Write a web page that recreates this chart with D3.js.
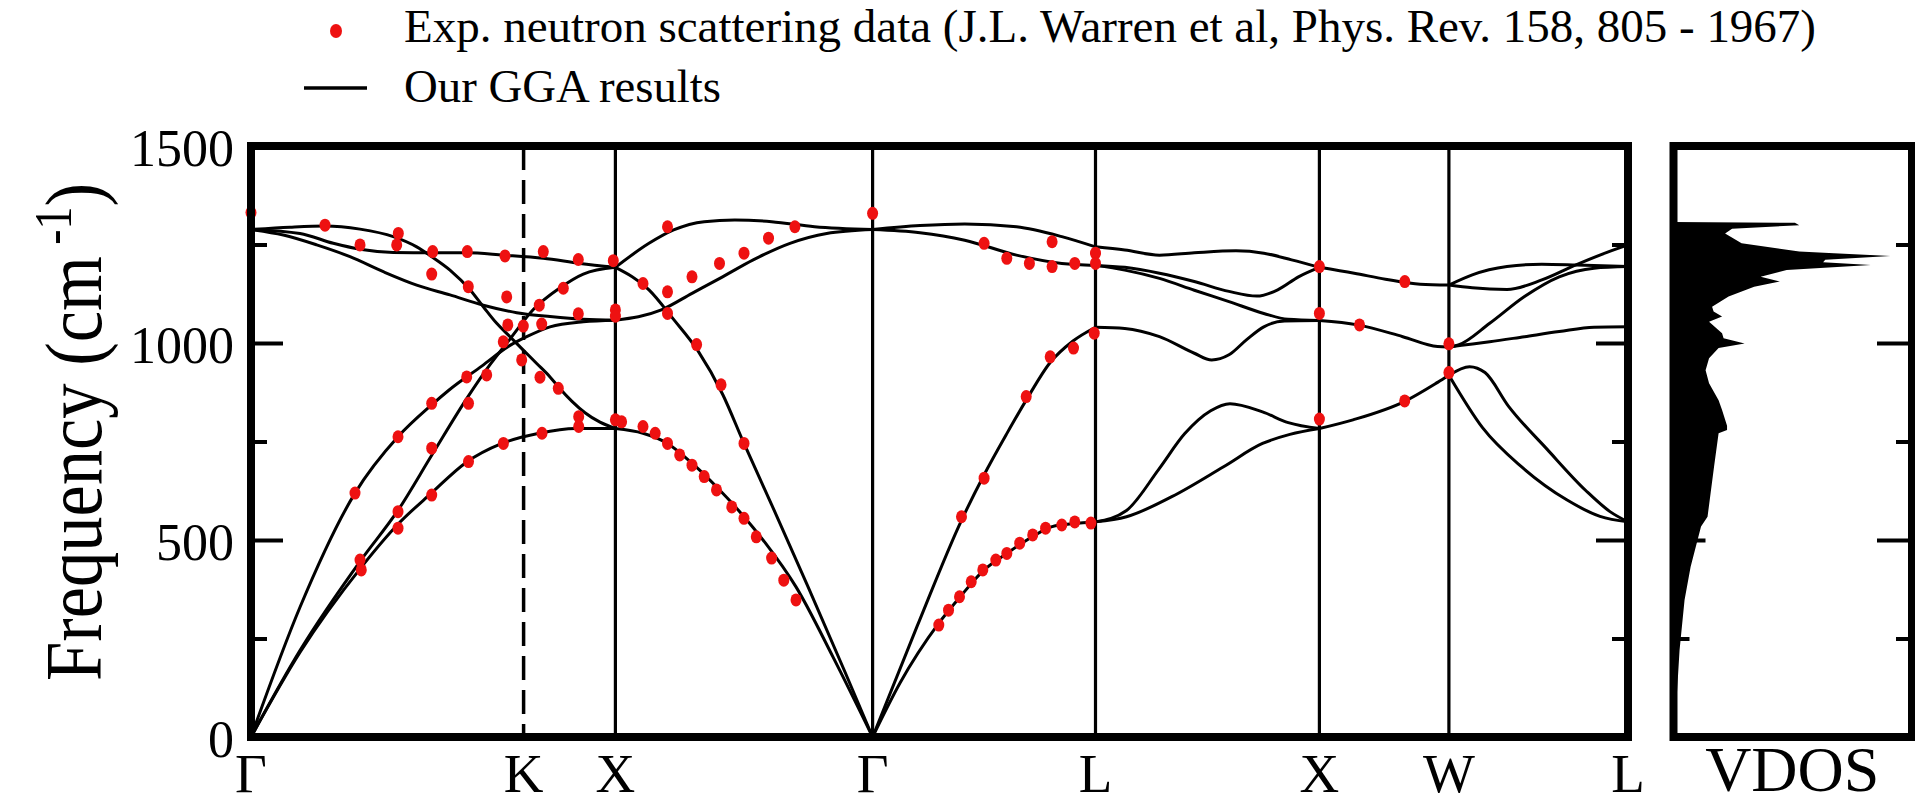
<!DOCTYPE html>
<html><head><meta charset="utf-8">
<script src="https://cdn.jsdelivr.net/npm/d3@7"></script>
<style>
body{margin:0;background:#fff}
svg{display:block}
text{font-family:"Liberation Serif","Times New Roman",serif;fill:#000}
</style>
</head><body><svg id="c" width="1915" height="805"></svg>
<script>
// ---- high-symmetry path (segment units: 0=Γ,1=K,2=X,3=Γ,4=L,5=X,6=W,7=L) ----
const kLabels = ["Γ","K","X","Γ","L","X","W","L"];
const kTicks = [0,1,2,3,4,5,6,7];
const yMajor = [0,500,1000,1500];
const yMinor = [250,750,1250];

// ---- GGA phonon branches [k, frequency cm^-1] ----
const bandsGX = [
 [[0,0],[0.18,215],[0.4035,430],[0.539,540],[0.6633,620],[0.7855,695],[0.9207,745],[1.168,771],[1.566,783],[2,783]],
 [[0,0],[0.18,220],[0.4035,449],[0.539,575],[0.6629,715],[0.7924,860],[0.8768,945],[0.9501,1010],[1.1057,1085],[1.3965,1140],[1.6503,1175],[2,1192]],
 [[0,0],[0.18,330],[0.3815,619],[0.5392,762],[0.6629,843],[0.7256,880],[0.8478,942],[0.9457,992],[1.0338,1016],[1.2876,1041],[1.6503,1054],[2,1058]],
 [[0,1288],[0.143,1294],[0.2715,1297],[0.3999,1289],[0.522,1270],[0.6079,1244],[0.6629,1219],[0.73,1185],[0.8034,1135],[0.8522,1092],[0.9013,1050],[0.9501,1016],[0.9989,982],[1.1427,948],[1.2876,914],[1.3965,884],[1.5272,852],[1.6688,823],[1.8322,799],[2,783]],
 [[0,1288],[0.1797,1278],[0.3019,1253],[0.3999,1238],[0.522,1230],[0.6688,1229],[0.7913,1229],[0.9255,1223],[1.2146,1215],[1.6144,1202],[2,1192]],
 [[0,1288],[0.1185,1274],[0.241,1249],[0.3632,1219],[0.4853,1181],[0.6079,1147],[0.73,1122],[0.8522,1096],[0.9747,1077],[1.2876,1067],[1.6503,1060],[2,1058]]
];
const bandsXG = [
 [[2,1192],[2.1306,1253],[2.2263,1287],[2.3453,1308],[2.4642,1312],[2.6073,1308],[2.7741,1295],[3,1288]],
 [[2,1058],[2.1788,1084],[2.2978,1126],[2.4168,1168],[2.5358,1211],[2.6788,1253],[2.8216,1278],[3,1288]],
 [[2,1192],[2.1306,1135],[2.2263,1060],[2.3212,980],[2.4168,870],[2.5,745],[2.6073,590],[2.75,380],[2.8927,165],[3,0]],
 [[2,783],[2.1073,771],[2.2026,745],[2.2978,695],[2.3931,635],[2.4883,568],[2.5836,492],[2.7022,381],[2.8453,204],[3,0]]
];
const bandsGL = [
 [[3,1288],[3.2127,1298],[3.4132,1302],[3.6456,1295],[3.8488,1270],[4,1244]],
 [[3,1288],[3.2127,1280],[3.4132,1261],[3.6456,1223],[3.8488,1202],[4,1197]],
 [[3,0],[3.199,280],[3.3988,550],[3.4998,665],[3.6021,770],[3.6891,855],[3.7959,950],[3.8991,1005],[4,1040]],
 [[3,0],[3.1229,137],[3.297,289],[3.3988,360],[3.5002,424],[3.6021,466],[3.7035,504],[3.8197,536],[4,546]]
];
const bandsLX = [
 [[4,1244],[4.1309,1236],[4.2858,1223],[4.4413,1229],[4.6275,1234],[4.7517,1228],[4.8758,1211],[5,1192]],
 [[4,1197],[4.1309,1192],[4.2858,1177],[4.4413,1156],[4.5962,1131],[4.7204,1119],[4.8138,1135],[4.9066,1168],[5,1192]],
 [[4,1197],[4.1309,1185],[4.2858,1164],[4.4413,1134],[4.5962,1105],[4.7517,1075],[4.8598,1060],[5,1057]],
 [[4,1040],[4.1309,1037],[4.2858,1016],[4.4413,974],[4.519,957],[4.5962,970],[4.6739,1008],[4.7517,1041],[4.8446,1056],[5,1057]],
 [[4,546],[4.1385,575],[4.2832,680],[4.3988,770],[4.5145,828],[4.6007,846],[4.7459,825],[4.8611,798],[5,783]],
 [[4,546],[4.1385,559],[4.3408,610],[4.5721,686],[4.7459,745],[4.8682,768],[5,783]]
];
const bandsXW = [
 [[5,1192],[5.2687,1177],[5.5097,1162],[5.7784,1149],[6,1147]],
 [[5,1057],[5.295,1046],[5.644,1016],[5.9127,991],[6,990]],
 [[5,783],[5.2595,805],[5.6595,852],[5.9127,900],[6,918]]
];
const bandsWL = [
 [[6,1147],[6.1307,1173],[6.3244,1194],[6.5187,1200],[6.713,1198],[7,1194]],
 [[6,1147],[6.1307,1140],[6.3244,1136],[6.5187,1160],[6.713,1199],[6.8827,1230],[7,1249]],
 [[6,990],[6.053,995],[6.2278,1050],[6.4221,1118],[6.6158,1168],[6.8102,1190],[7,1194]],
 [[6,990],[6.2278,1003],[6.4221,1016],[6.6158,1029],[6.8102,1040],[7,1041]],
 [[6,918],[6.1156,940],[6.2016,925],[6.3322,840],[6.5489,730],[6.7655,625],[6.8995,572],[7,546]],
 [[6,918],[6.1876,785],[6.4048,686],[6.6577,602],[6.8437,560],[7,546]]
];

// ---- experimental neutron data [k, frequency] ----
const expData = [
 [0,1331],[0.2715,1299],[0.3999,1249],[0.5404,1278],[0.5345,1249],[0.6665,1232],[0.6629,1175],[0.7935,1232],[0.7971,1143],
 [0.9318,1221],[0.938,1117],[1.2146,1232],[1.5959,1212],[1.9771,1209],[1.4325,1139],[1.171,1096],[1.1972,1048],[1.5959,1074],
 [2,1084],[2,1068],[0.9989,1043],[0.942,1046],[0.9255,1003],[0.993,957],[0.7913,914],[0.8646,919],[1.1786,913],[1.378,885],
 [0.3815,619],[0.3999,449],[0.4046,424],[0.5393,762],[0.5393,572],[0.5393,530],[0.6629,847],[0.6629,733],[0.6629,614],
 [0.7979,847],[0.7979,699],[0.9259,745],[1.2004,771],[1.6002,813],[1.6002,788],[2,805],[2.0241,800],[2.1073,788],[2.1547,771],
 [2.2026,745],[2.25,716],[2.2978,690],[2.3453,661],[2.3931,627],[2.4526,584],[2.5,555],[2.5478,508],[2.6073,454],[2.6547,398],
 [2.7022,348],[2.5,745],[2.3158,996],[2.4107,894],
 [2.2026,1295],[2.2978,1168],[2.4047,1202],[2.5,1228],[2.5953,1266],[2.6979,1295],[3,1329],[2.1073,1151],[2.2026,1130],[2.2026,1075],
 [3.5002,1253],[3.6021,1215],[3.7035,1202],[3.8053,1194],[3.8053,1257],[3.9071,1202],[4,1228],[4,1202],
 [3.9942,1025],[3.9013,987],[3.7968,965],[3.6891,864],[3.5002,657],[3.3988,559],
 [3.297,284],[3.3406,322],[3.3899,356],[3.4424,394],[3.4944,424],[3.5528,449],[3.6021,466],[3.66,492],[3.7183,513],
 [3.7761,530],[3.8488,538],[3.9071,546],[3.9794,543],
 [5,1194],[5,1075],[5.3097,1046],[5.6595,1156],[6,998],[6,925],[5.6587,853],[5,807]
];

// ---- vibrational density of states ----
const vdosF = [0,94,221,348,432,534,559,686,771,779,790,830,855,898,931,961,987,999,1012,1025,1054,1067,1080,1092,1118,1143,1156,1168,1185,1198,1205,1211,1221,1228,1232,1253,1278,1290,1299,1305,1307];
const vdosD = [0,0.014,0.028,0.051,0.079,0.127,0.157,0.187,0.208,0.247,0.247,0.224,0.208,0.164,0.148,0.164,0.208,0.328,0.231,0.224,0.164,0.224,0.185,0.178,0.254,0.372,0.49,0.402,0.522,0.91,0.69,0.70,1.0,0.74,0.58,0.314,0.238,0.27,0.58,0.56,0];

// ---- legend / text ----
const legendExp = "Exp. neutron scattering data (J.L. Warren et al, Phys. Rev. 158, 805 - 1967)";
const legendGGA = "Our GGA results";

// ================= drawing =================
const svg = d3.select("#c");
const P = {l:251, r:1628, t:146, b:737};
const V = {l:1673.5, r:1912};
const kPix = [251,523.6,615.4,872.6,1095.5,1319.4,1448.9,1628];
const RED = "#ee1111";

const x = d3.scaleLinear().domain(kTicks).range(kPix);
const y = d3.scaleLinear().domain([0,1500]).range([P.b, P.t]);
const xv = d3.scaleLinear().domain([0,1.1]).range([V.l, V.r]);

// VDOS filled area
svg.append("clipPath").attr("id","vclip").append("rect")
  .attr("x",V.l).attr("y",P.t).attr("width",V.r-V.l).attr("height",P.b-P.t);
const vd = vdosF.map((f,i)=>({f, d:vdosD[i]}));
svg.append("path").datum(vd).attr("clip-path","url(#vclip)")
  .attr("fill","#000")
  .attr("d", d3.area().y(d=>y(d.f)).x0(xv(0)).x1(d=>xv(d.d)).curve(d3.curveLinear));

// high-symmetry vertical lines
svg.append("g").selectAll("line").data(kTicks.slice(1,7)).join("line")
  .attr("x1",d=>x(d)).attr("x2",d=>x(d)).attr("y1",y(1500)).attr("y2",y(0))
  .attr("stroke","#000").attr("stroke-width",d=>d===1?3.5:3.2)
  .attr("stroke-dasharray",d=>d===1?"24,10":null);

// bands
const line = d3.line().x(d=>x(d[0])).y(d=>y(d[1])).curve(d3.curveMonotoneX);
const allBands = [].concat(bandsGX, bandsXG, bandsGL, bandsLX, bandsXW, bandsWL);
svg.append("g").selectAll("path").data(allBands).join("path")
  .attr("d", line).attr("fill","none").attr("stroke","#000")
  .attr("stroke-width",3).attr("stroke-linejoin","round");

// experimental points
svg.append("g").selectAll("ellipse").data(expData).join("ellipse")
  .attr("cx",d=>x(d[0])).attr("cy",d=>y(d[1])).attr("rx",5.5).attr("ry",6.5)
  .attr("fill",RED);

// ticks
function ticks(px, major, minor, label){
  const gM = svg.append("g").attr("transform",`translate(${px},0)`)
    .call(d3.axisLeft(y).tickValues(yMajor).tickSize(major).tickPadding(17)
      .tickFormat(label?d3.format("d"):""));
  const gm = svg.append("g").attr("transform",`translate(${px},0)`)
    .call(d3.axisLeft(y).tickValues(yMinor).tickSize(minor).tickFormat(""));
  [gM,gm].forEach(g=>{g.select(".domain").remove();
    g.selectAll("line").attr("stroke","#000").attr("stroke-width",4);});
  gM.selectAll("text").attr("font-size",52).attr("dy","0.38em")
    .style("font-family",'"Liberation Serif","Times New Roman",serif').attr("fill","#000");
}
ticks(P.l,-32,-16,true);
ticks(P.r,32,16,false);
ticks(V.l,-32,-16,false);
ticks(V.r,35,16,false);

// frames
[[P.l,P.r],[V.l,V.r]].forEach(([a,b])=>{
  svg.append("rect").attr("x",a).attr("y",P.t).attr("width",b-a).attr("height",P.b-P.t)
    .attr("fill","none").attr("stroke","#000").attr("stroke-width",8);
});

// x labels
svg.append("g").selectAll("text").data(kTicks).join("text")
  .attr("x",d=>x(d)).attr("y",792).attr("text-anchor","middle")
  .attr("font-size",55).text((d,i)=>kLabels[i]);
svg.append("text").attr("x",(V.l+V.r)/2-0.5).attr("y",791).attr("text-anchor","middle")
  .attr("font-size",64).text("VDOS");

// y title
const yt = svg.append("text").attr("transform","translate(101,432) rotate(-90)")
  .attr("text-anchor","middle").attr("font-size",80)
  .attr("textLength",498).attr("lengthAdjust","spacingAndGlyphs");
yt.append("tspan").text("Frequency (cm");
yt.append("tspan").attr("dy",-30).attr("font-size",52).text(" -1");
yt.append("tspan").attr("dy",30).text(")");

// legend
svg.append("ellipse").attr("cx",336).attr("cy",31).attr("rx",6).attr("ry",7).attr("fill",RED);
svg.append("text").attr("x",404).attr("y",42).attr("font-size",46)
  .attr("textLength",1412).attr("lengthAdjust","spacingAndGlyphs").text(legendExp);
svg.append("line").attr("x1",304).attr("x2",367).attr("y1",88).attr("y2",88)
  .attr("stroke","#000").attr("stroke-width",3.5);
svg.append("text").attr("x",404).attr("y",102).attr("font-size",46)
  .attr("textLength",317).attr("lengthAdjust","spacingAndGlyphs").text(legendGGA);
</script>
</body></html>
